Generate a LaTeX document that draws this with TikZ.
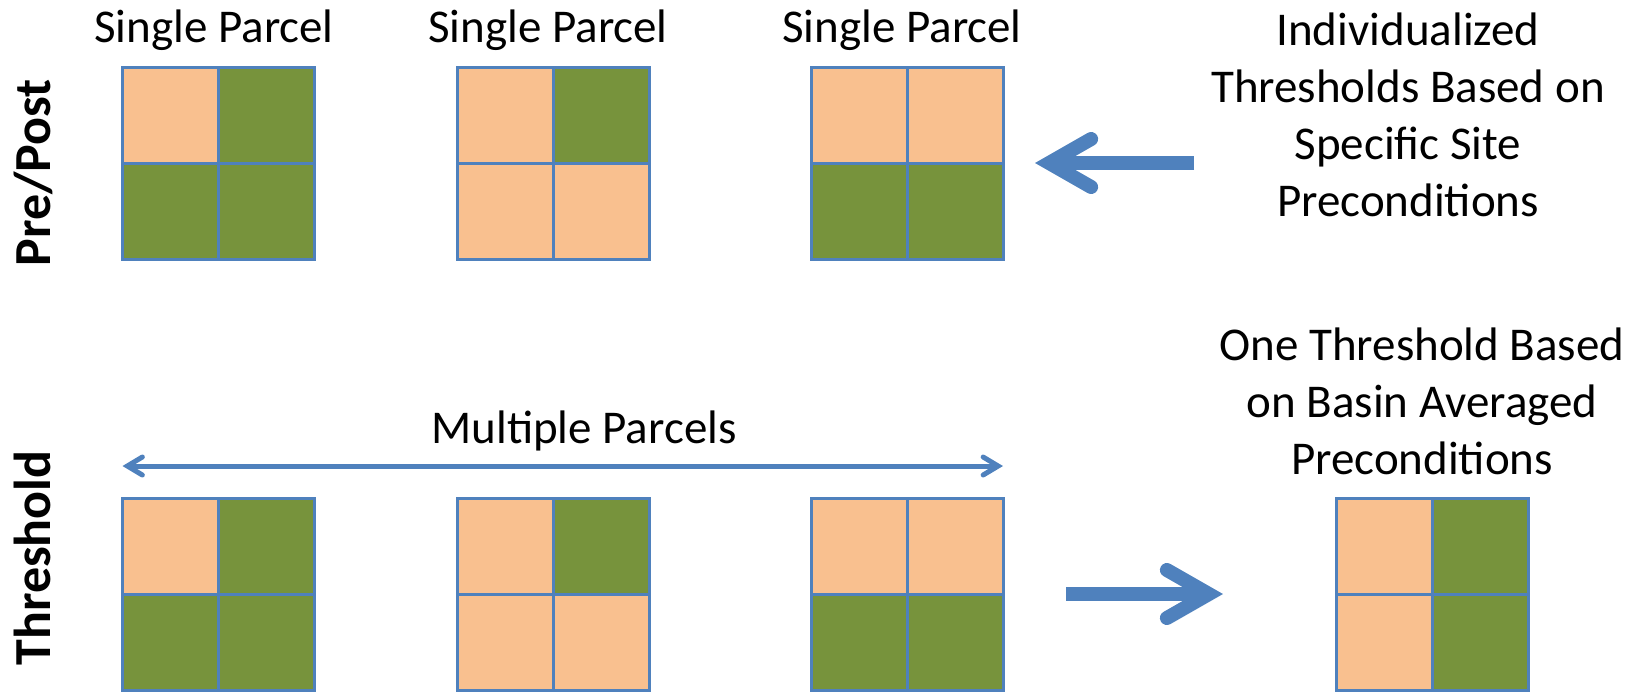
\documentclass[tikz,border=0pt]{standalone}
\usepackage{fontspec}
\setmainfont{Carlito}
\usetikzlibrary{arrows.meta,positioning}
\definecolor{landpeach}{HTML}{F9C08F}
\definecolor{landgreen}{HTML}{77933C}
\definecolor{steel}{HTML}{4F81BD}
\newcommand{\capsize}[0]{\fontsize{47}{57}\selectfont}
\newcommand{\rowsize}[0]{\fontsize{52}{60}\selectfont\bfseries}
% one parcel: name, centre, colours top-left, top-right, bottom-left, bottom-right
\newcommand{\parcel}[6]{
  \node[cell, fill=#3, anchor=south east] (#1-a) at #2 {};
  \node[cell, fill=#4, anchor=south west] (#1-b) at #2 {};
  \node[cell, fill=#5, anchor=north east] (#1-c) at #2 {};
  \node[cell, fill=#6, anchor=north west] (#1-d) at #2 {};
  \node[frame] (#1) at #2 {};
}

\begin{document}
\begin{tikzpicture}[x=1pt, y=-1pt]
  \tikzset{
    cell/.style={draw=steel, line width=3pt, minimum size=96pt, inner sep=0pt, outer sep=0pt},
    frame/.style={draw=steel, line width=3pt, minimum size=192pt, inner sep=0pt, outer sep=0pt},
    caption/.style={font=\capsize, align=center, inner sep=0pt},
    rowlabel/.style={font=\rowsize, rotate=90, inner sep=0pt},
    bigarrow/.style={steel, line width=14pt,
      -{Straight Barb[length=42pt, width=48pt, line cap=round, line join=miter]}},
    spanarrow/.style={steel, line width=5pt,
      {Straight Barb[length=15pt, width=18pt, line cap=round, line join=miter]}-{Straight Barb[length=15pt, width=18pt, line cap=round, line join=miter]}}
  }
  \useasboundingbox (0,0) rectangle (1643,691);

  % pre/post row
  \parcel{p1}{(218.5,163)}{landpeach}{landgreen}{landgreen}{landgreen}
  \parcel{p2}{(553.8,163)}{landpeach}{landgreen}{landpeach}{landpeach}
  \parcel{p3}{(907,163)}{landpeach}{landpeach}{landgreen}{landgreen}
  \node[caption, anchor=base] (sp1) at (214,42) {Single Parcel};
  \node[caption, anchor=base] (sp2) at (548,42) {Single Parcel};
  \node[caption, anchor=base] (sp3) at (902,42) {Single Parcel};
  \node[caption, anchor=base] (indiv) at (1408,216)
    {Individualized\\Thresholds Based on\\Specific Site\\Preconditions};
  \coordinate (indivtail) at (1194,163);
  \draw[bigarrow] (indivtail) -- ([xshift=32pt]p3.east);
  \node[rowlabel, anchor=base] (prepost) at (50,173) {Pre/Post};

  % threshold row
  \parcel{q1}{(218.5,594)}{landpeach}{landgreen}{landgreen}{landgreen}
  \parcel{q2}{(553.8,594)}{landpeach}{landgreen}{landpeach}{landpeach}
  \parcel{q3}{(907,594)}{landpeach}{landpeach}{landgreen}{landgreen}
  \parcel{q4}{(1432,594)}{landpeach}{landgreen}{landpeach}{landgreen}
  \draw[spanarrow] ([yshift=32pt]q1.north west) -- ([yshift=32pt]q3.north east);
  \node[caption, anchor=base] (multi) at (584,443) {Multiple Parcels};
  \node[caption, anchor=base] (basin) at (1422,474)
    {One Threshold Based\\on Basin Averaged\\Preconditions};
  \coordinate (basintail) at (1066,594);
  \draw[bigarrow] (basintail) -- ([xshift=-113pt]q4.west);
  \node[rowlabel, anchor=base] (thresh) at (50,558) {Threshold};
\end{tikzpicture}
\end{document}
